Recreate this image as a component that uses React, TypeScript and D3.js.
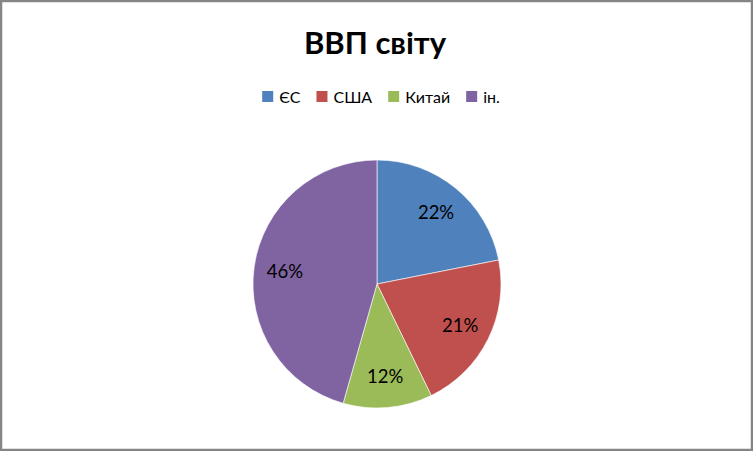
import { useEffect, useRef } from 'react';
import * as d3 from 'd3';

// ВВП світу — частки, %
const regions = ['ЄС', 'США', 'Китай', 'ін.'];
const shares = [21.9, 20.9, 11.6, 45.6];
const colors = ['#4F81BD', '#C0504D', '#9BBB59', '#8064A2'];

const W = 753;
const H = 451;

export default function App() {
  const svgRef = useRef<SVGSVGElement>(null);

  useEffect(() => {
    document.body.style.margin = '0';
    if (!svgRef.current) return;

    const svg = d3.select(svgRef.current);
    svg.selectAll('*').remove();

    const font = 'Lato, "Open Sans", sans-serif';

    // Chart area with grey frame
    svg
      .append('rect')
      .attr('x', 1)
      .attr('y', 1)
      .attr('width', W - 2)
      .attr('height', H - 2)
      .attr('fill', '#fff')
      .attr('stroke', '#858585')
      .attr('stroke-width', 2.5);

    // Title
    svg
      .append('text')
      .attr('x', 375)
      .attr('y', 54)
      .attr('text-anchor', 'middle')
      .style('font-family', font)
      .style('font-weight', 'bold')
      .style('font-size', '31px')
      .text('ВВП світу');

    // Legend, centred under the title
    const legend = svg.append('g');
    const items = legend
      .selectAll('g')
      .data(regions)
      .join('g');

    const box = 11;
    const textGap = 6;

    items
      .append('rect')
      .attr('width', box)
      .attr('height', box)
      .attr('y', -box - 0.5)
      .attr('fill', (_d, i) => colors[i]);

    items
      .append('text')
      .attr('x', box + textGap)
      .style('font-family', font)
      .style('font-size', '16px')
      .text(d => d);

    const gap = 16;
    let offset = 0;
    items.each(function () {
      const t = d3.select(this).select<SVGTextElement>('text').node()!;
      const w = box + textGap + t.getComputedTextLength();
      d3.select(this).attr('transform', `translate(${offset},0)`);
      offset += w + gap;
    });
    const legendWidth = offset - gap;
    legend.attr('transform', `translate(${381 - legendWidth / 2},102.5)`);

    // Pie
    const cx = 377;
    const cy = 284;
    const radius = 124;

    const pie = d3
      .pie<number>()
      .sort(null)
      .value(d => d);

    const arcs = pie(shares);

    const arc = d3
      .arc<d3.PieArcDatum<number>>()
      .innerRadius(0)
      .outerRadius(radius);

    const labelArc = d3
      .arc<d3.PieArcDatum<number>>()
      .innerRadius(radius * 0.75)
      .outerRadius(radius * 0.75);

    const g = svg.append('g').attr('transform', `translate(${cx},${cy})`);

    g.selectAll('path')
      .data(arcs)
      .join('path')
      .attr('d', arc)
      .attr('fill', (_d, i) => colors[i])
      .attr('stroke', '#fff')
      .attr('stroke-width', 0.6);

    g.selectAll('text')
      .data(arcs)
      .join('text')
      .attr('transform', d => {
        const [x, y] = labelArc.centroid(d);
        return `translate(${x},${y})`;
      })
      .attr('text-anchor', 'middle')
      .attr('dy', '0.35em')
      .style('font-family', font)
      .style('font-size', '18.5px')
      .attr('fill', '#000')
      .text(d => `${Math.round(d.data)}%`);
  }, []);

  return <svg ref={svgRef} width={W} height={H} style={{ display: 'block' }} />;
}
